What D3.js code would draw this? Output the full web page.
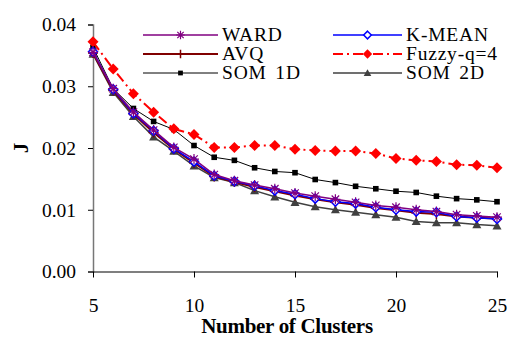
<!DOCTYPE html>
<html><head><meta charset="utf-8">
<script src="https://cdn.jsdelivr.net/npm/d3@7"></script>
<style>body{margin:0;background:#fff}svg{display:block}text{font-family:"Liberation Serif","Times New Roman",serif}</style>
</head><body>
<svg id="c" width="508" height="343"></svg>
<script>
const clusters = d3.range(5, 26);
const ward   = [0.0355,0.0296,0.0258,0.0229,0.0201,0.0182,0.0157,0.0147,0.0140,0.0134,0.0127,0.0122,0.0117,0.0112,0.0107,0.0104,0.0100,0.0097,0.0092,0.0090,0.0088];
const kmean  = [0.0356,0.0295,0.0256,0.0228,0.0199,0.0178,0.0155,0.0146,0.0139,0.0131,0.0125,0.0118,0.0113,0.0110,0.0104,0.0100,0.0097,0.0096,0.0089,0.0087,0.0085];
const avq    = [0.0354,0.0293,0.0255,0.0225,0.0198,0.0176,0.0154,0.0145,0.0137,0.0130,0.0123,0.0117,0.0112,0.0108,0.0103,0.0099,0.0095,0.0093,0.0089,0.0087,0.0086];
const fuzzy  = [0.0372,0.0328,0.0288,0.0258,0.0231,0.0222,0.0201,0.0201,0.0204,0.0204,0.0198,0.0196,0.0195,0.0195,0.0191,0.0183,0.0180,0.0178,0.0173,0.0172,0.0168];
const som1d  = [0.0363,0.0296,0.0264,0.0243,0.0230,0.0204,0.0185,0.0180,0.0168,0.0162,0.0160,0.0149,0.0144,0.0138,0.0134,0.0130,0.0128,0.0122,0.0118,0.0116,0.0113];
const som2d  = [0.0352,0.0290,0.0251,0.0218,0.0195,0.0171,0.0152,0.0144,0.0131,0.0121,0.0112,0.0105,0.0100,0.0096,0.0092,0.0088,0.0081,0.0079,0.0079,0.0076,0.0074];
const xTicks = [5,10,15,20,25];
const yTicks = [0,0.01,0.02,0.03,0.04];
const seriesNames = ["WARD","K-MEAN","AVQ","Fuzzy-q=4","SOM 1D","SOM 2D"];

const svg = d3.select("#c");
const x = d3.scaleLinear().domain([5,25]).range([93,497]);
const y = d3.scaleLinear().domain([0,0.04]).range([271.5,24.5]);

const series = [
  {name:"SOM 1D", vals:som1d, color:"#000", width:1, dash:null, marker:"square", fill:"#000", size:7},
  {name:"Fuzzy-q=4", vals:fuzzy, color:"#ff0000", width:2, dash:"10,4,2,4", marker:"diamond", fill:"#ff0000", size:11},
  {name:"SOM 2D", vals:som2d, color:"#404040", width:1.5, dash:null, marker:"triangle", fill:"#404040", size:9},
  {name:"AVQ", vals:avq, color:"#800000", width:2, dash:null, marker:"plus", fill:"none", size:10},
  {name:"K-MEAN", vals:kmean, color:"#0000ff", width:1.5, dash:null, marker:"odiamond", fill:"#fff", size:9},
  {name:"WARD", vals:ward, color:"#800080", width:1.5, dash:null, marker:"star", fill:"none", size:10},
];

function drawMarker(g, m, cx, cy, s){
  const h = s/2;
  if(m.marker==="square") g.append("rect").attr("x",cx-h*0.8).attr("y",cy-h*0.8).attr("width",s*0.8).attr("height",s*0.8).attr("fill",m.fill);
  else if(m.marker==="diamond") g.append("path").attr("d",`M${cx},${cy-h}L${cx+h},${cy}L${cx},${cy+h}L${cx-h},${cy}Z`).attr("fill",m.fill);
  else if(m.marker==="odiamond") g.append("path").attr("d",`M${cx},${cy-h}L${cx+h},${cy}L${cx},${cy+h}L${cx-h},${cy}Z`).attr("fill",m.fill).attr("stroke",m.color).attr("stroke-width",1.5);
  else if(m.marker==="triangle") g.append("path").attr("d",`M${cx},${cy-h}L${cx+h},${cy+h*0.8}L${cx-h},${cy+h*0.8}Z`).attr("fill",m.fill);
  else if(m.marker==="plus") g.append("path").attr("d",`M${cx-h},${cy}H${cx+h}M${cx},${cy-h}V${cy+h}`).attr("stroke",m.color).attr("stroke-width",1.5);
  else if(m.marker==="star"){
    const d = h*0.75;
    g.append("path").attr("d",`M${cx-h},${cy}H${cx+h}M${cx},${cy-h}V${cy+h}M${cx-d},${cy-d}L${cx+d},${cy+d}M${cx-d},${cy+d}L${cx+d},${cy-d}`).attr("stroke",m.color).attr("stroke-width",1.2);
  }
}

// axes
const yAxis = svg.append("g").attr("transform","translate(93,0)")
  .call(d3.axisLeft(y).tickValues(yTicks).tickFormat(d3.format(".2f")).tickSize(5).tickPadding(12));
yAxis.select(".domain").attr("stroke","#777").attr("stroke-width",1.5);
yAxis.selectAll(".tick line").attr("stroke","#000");
yAxis.selectAll("text").attr("font-size",19.5).attr("fill","#000");

const xAxis = svg.append("g").attr("transform","translate(0,271.5)")
  .call(d3.axisBottom(x).tickValues(xTicks).tickFormat(d3.format("d")).tickSize(6).tickSizeOuter(0).tickPadding(20.5));
xAxis.select(".domain").attr("stroke","#000").attr("stroke-width",1.2);
xAxis.selectAll(".tick line").attr("stroke","#000");
xAxis.selectAll("text").attr("font-size",19.5).attr("fill","#000");

// series
const line = d3.line().x((d,i)=>x(clusters[i])).y(d=>y(d));
series.forEach(s=>{
  svg.append("path").datum(s.vals).attr("d",line).attr("fill","none")
    .attr("stroke",s.color).attr("stroke-width",s.width).attr("stroke-dasharray",s.dash);
  const g = svg.append("g");
  s.vals.forEach((v,i)=>drawMarker(g,s,x(clusters[i]),y(v),s.size));
});

// legend
const legendRows = [
  ["WARD",0,35],["AVQ",0,54],["SOM 1D",0,73],
  ["K-MEAN",1,35],["Fuzzy-q=4",1,54],["SOM 2D",1,73]
];
const colX = [[143,218,222],[333,402,406]];
legendRows.forEach(([n,c,ly])=>{
  const s = series.find(d=>d.name===n);
  const [x0,x1,tx] = colX[c];
  svg.append("line").attr("x1",x0).attr("x2",x1).attr("y1",ly).attr("y2",ly)
    .attr("stroke",s.color).attr("stroke-width",s.width).attr("stroke-dasharray",s.dash);
  drawMarker(svg.append("g"),s,(x0+x1)/2,ly,s.size*0.85);
  svg.append("text").attr("x",tx).attr("y",ly+5.5).attr("font-size",19.5)
    .attr("letter-spacing",0.8).attr("word-spacing",3).text(n);
});

// titles
svg.append("text").attr("x",287).attr("y",333).attr("text-anchor","middle")
  .attr("font-size",21).attr("font-weight","bold").attr("letter-spacing",-0.3).text("Number of Clusters");
svg.append("text").attr("transform","translate(28,148) rotate(-90)").attr("text-anchor","middle")
  .attr("font-size",21).attr("font-weight","bold").text("J");
</script>
</body></html>
